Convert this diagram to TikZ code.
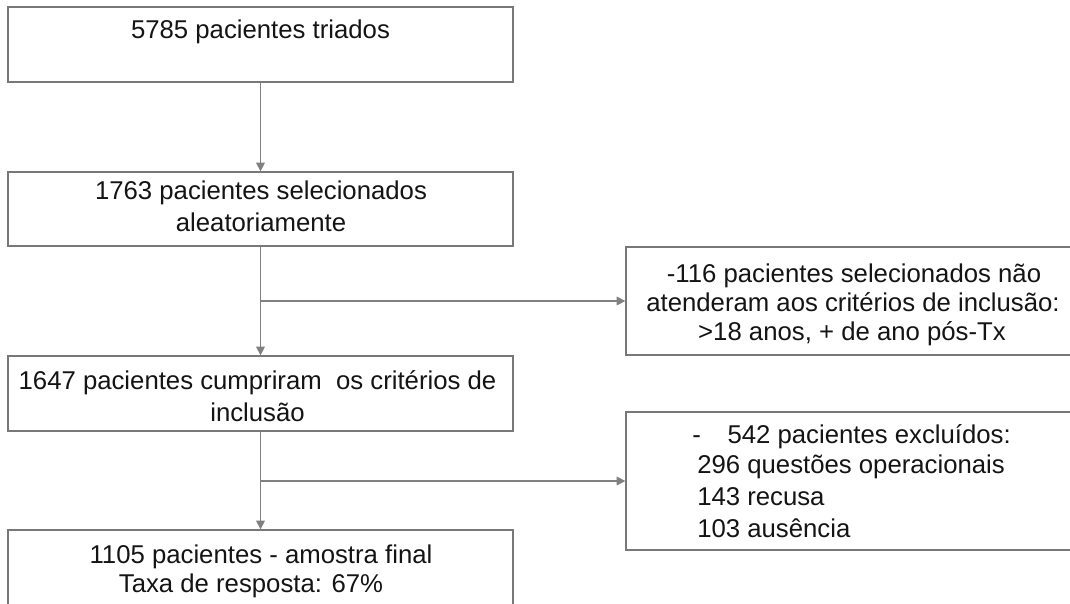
\documentclass[tikz,border=0pt]{standalone}
\usepackage{fontspec}
\setmainfont{Liberation Sans}
\usetikzlibrary{arrows.meta}
\definecolor{linegray}{RGB}{128,128,128}
\definecolor{boxgray}{RGB}{120,120,120}
\definecolor{txtcol}{RGB}{20,20,20}
\begin{document}
\begin{tikzpicture}[x=0.75pt,y=-0.75pt,
  box/.style={draw=boxgray,line width=0.95pt,inner sep=0pt,fill=none},
  arr/.style={draw=linegray,line width=0.8pt,-{Triangle[length=6.5pt,width=6.5pt]}},
  txt/.style={font=\fontsize{19.3}{23}\selectfont,text=txtcol,inner sep=0pt,anchor=base},
  txtl/.style={txt,anchor=base west}]
\useasboundingbox (0,0) rectangle (1070,603);
\fill[white] (0,0) rectangle (1070,603);
% boxes
\node[box,minimum width=378.75pt,minimum height=56.25pt] (b1) at (260.5,44.5) {};
\node[box,minimum width=378.75pt,minimum height=55.5pt] (b2) at (260.5,209) {};
\node[box,minimum width=378.75pt,minimum height=56.25pt] (b3) at (260.5,393.5) {};
\node[box,minimum width=378.75pt,minimum height=82.5pt] (b4) at (260.5,585) {};
\node[box,minimum width=340.5pt,minimum height=81pt] (bA) at (853,301) {};
\node[box,minimum width=340.5pt,minimum height=103.5pt] (bB) at (853,481) {};
% texts
\node[txt] (t1) at (260.5,38) {5785 pacientes triados};
\node[txt] (t2a) at (261,199) {1763 pacientes selecionados};
\node[txt] (t2b) at (261,231) {aleatoriamente};
\node[txt] (t3a) at (257.5,389) {1647 pacientes cumpriram\ \ os critérios de};
\node[txt] (t3b) at (257.5,421) {inclusão};
\node[txt] (t4a) at (261,563) {1105 pacientes - amostra final};
\node[txt] (t4b) at (251,592) {Taxa de resposta: 67\%};
\node[txt] (tAa) at (854,282) {-116 pacientes selecionados não};
\node[txt] (tAb) at (853,311) {atenderam\ aos critérios de inclusão:};
\node[txt] (tAc) at (852,340) {>18 anos, + de ano pós-Tx};
\node[txtl] (tBa) at (692,443) {-\hspace{20pt}542 pacientes\ excluídos:};
\node[txtl] (tBb) at (697,473) {296 questões\ operacionais};
\node[txtl] (tBc) at (697,505) {143 recusa};
\node[txtl] (tBd) at (697,537) {103 ausência};
% connectors
\draw[arr] (b1.south) -- (b2.north);
\draw[arr] (b2.south) -- (b3.north);
\draw[arr] (b3.south) -- (b4.north);
\coordinate (j1) at (b2.south |- bA.west);
\coordinate (j2) at (b3.south |- bB.west);
\draw[arr] (j1) -- (bA.west);
\draw[arr] (j2) -- (bB.west);
\end{tikzpicture}
\end{document}
